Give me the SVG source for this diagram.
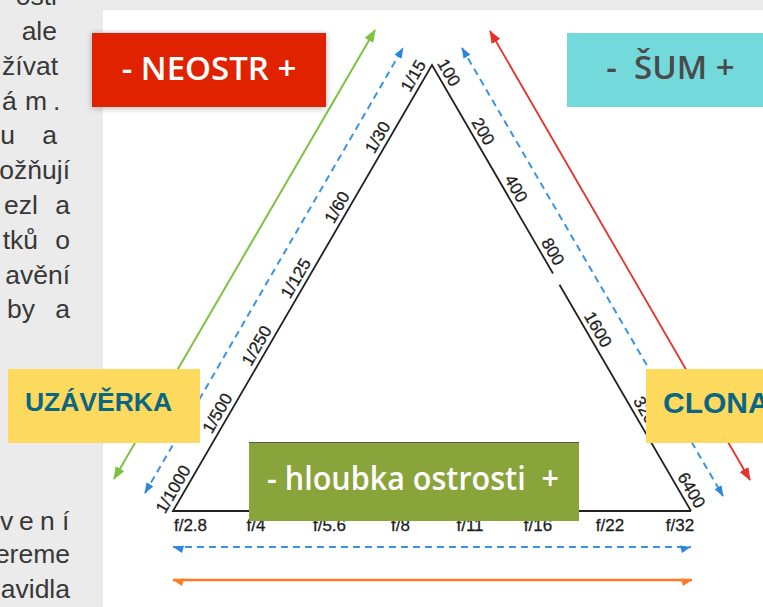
<svg xmlns="http://www.w3.org/2000/svg" width="763" height="607" viewBox="0 0 763 607">
<defs>
<style>
.body{font-family:"Liberation Sans",Arial,sans-serif;font-size:26.5px;fill:#383838}
.lbl{font-family:"Liberation Sans",Arial,sans-serif;font-size:17px;fill:#1e1e1e;stroke:#1e1e1e;stroke-width:0.3;text-anchor:middle}
.flbl{font-family:"Liberation Sans",Arial,sans-serif;font-size:17px;fill:#1e1e1e;stroke:#1e1e1e;stroke-width:0.3;text-anchor:middle}
.big{font-family:"Open Sans","Noto Sans",sans-serif;font-weight:600;font-size:33px;text-anchor:middle;white-space:pre}
.yl{font-family:"Liberation Sans",Arial,sans-serif;font-weight:bold;fill:#0b6684}
.tri{fill:none;stroke:#222;stroke-width:1.8;stroke-linejoin:miter}
.dash{fill:none;stroke:#3a93e6;stroke-width:2;stroke-dasharray:7 5}
</style>
<filter id="sh" x="-10%" y="-30%" width="120%" height="160%">
<feDropShadow dx="0" dy="1" stdDeviation="3" flood-color="#000" flood-opacity="0.3"/>
</filter>
<marker id="gA" markerUnits="userSpaceOnUse" markerWidth="16" markerHeight="12" refX="12" refY="5" orient="auto-start-reverse"><path d="M0,0 L13,5 L0,10 Z" fill="#7dc242"/></marker>
<marker id="rA" markerUnits="userSpaceOnUse" markerWidth="16" markerHeight="12" refX="12" refY="5" orient="auto-start-reverse"><path d="M0,0 L13,5 L0,10 Z" fill="#e5322d"/></marker>
<marker id="bA" markerUnits="userSpaceOnUse" markerWidth="14" markerHeight="10" refX="10" refY="4" orient="auto-start-reverse"><path d="M0,0 L11,4 L0,8 Z" fill="#2b86e0"/></marker>
<marker id="oE" markerUnits="userSpaceOnUse" markerWidth="14" markerHeight="10" refX="11" refY="2" orient="auto"><path d="M0,0.5 L11,2 L2,8 Z" fill="#ff7a22"/></marker>
<marker id="oS" markerUnits="userSpaceOnUse" markerWidth="14" markerHeight="10" refX="0" refY="2" orient="auto"><path d="M11,0.5 L0,2 L9,8 Z" fill="#ff7a22"/></marker>
<marker id="bE" markerUnits="userSpaceOnUse" markerWidth="14" markerHeight="10" refX="11" refY="2" orient="auto"><path d="M0,0.5 L11,2 L2,8 Z" fill="#2b86e0"/></marker>
<marker id="bS" markerUnits="userSpaceOnUse" markerWidth="14" markerHeight="10" refX="0" refY="2" orient="auto"><path d="M11,0.5 L0,2 L9,8 Z" fill="#2b86e0"/></marker>
</defs>

<rect x="0" y="0" width="763" height="607" fill="#ebebeb"/>
<rect x="103" y="10" width="660" height="597" fill="#ffffff"/>

<g id="bodytext" class="body">
<text x="57" y="5" text-anchor="end">osti</text>
<text x="57" y="40" text-anchor="end">ale</text>
<text x="58" y="75" text-anchor="end">žívat</text>
<text y="110"><tspan x="2">á</tspan><tspan x="25">m</tspan><tspan x="53">.</tspan></text>
<text y="144" text-anchor="end"><tspan x="15">u</tspan><tspan x="57">a</tspan></text>
<text x="70" y="179" text-anchor="end">ožňují</text>
<text y="214" text-anchor="end"><tspan x="38">ezl</tspan><tspan x="70">a</tspan></text>
<text y="249" text-anchor="end"><tspan x="38">tků</tspan><tspan x="70">o</tspan></text>
<text x="70" y="284" text-anchor="end">avění</text>
<text y="318" text-anchor="end"><tspan x="35">by</tspan><tspan x="70">a</tspan></text>
<text y="530"><tspan x="0">v</tspan><tspan x="19">e</tspan><tspan x="40">n</tspan><tspan x="62">í</tspan></text>
<text x="70" y="563" text-anchor="end">ereme</text>
<text x="70" y="598" text-anchor="end">avidla</text>
</g>

<g id="connectors">
<line x1="114" y1="479" x2="375" y2="30" stroke="#7dc242" stroke-width="2" marker-start="url(#gA)" marker-end="url(#gA)"/>
<line x1="145" y1="493" x2="403" y2="48" class="dash" marker-start="url(#bA)" marker-end="url(#bA)"/>
<line x1="490" y1="31" x2="750" y2="480" stroke="#e5322d" stroke-width="1.8" marker-start="url(#rA)" marker-end="url(#rA)"/>
<line x1="462" y1="48" x2="723" y2="496" class="dash" marker-start="url(#bA)" marker-end="url(#bA)"/>
<line x1="173" y1="547" x2="691" y2="547" class="dash" marker-start="url(#bS)" marker-end="url(#bE)"/>
<line x1="173" y1="580" x2="692" y2="580" stroke="#ff7a22" stroke-width="2.5" marker-start="url(#oS)" marker-end="url(#oE)"/>
</g>

<g id="triangle">
<path class="tri" d="M691,511 L173,511 L432,65 L553,273.5 M559.5,284.7 L691,511"/>
</g>

<g id="shutter-scale" class="lbl">
<text transform="translate(182.5,494.6) rotate(-59.86)" y="-5">1/1000</text>
<text transform="translate(226.7,418.5) rotate(-59.86)" y="-5">1/500</text>
<text transform="translate(265.9,351) rotate(-59.86)" y="-5">1/250</text>
<text transform="translate(305.1,283.6) rotate(-59.86)" y="-5">1/125</text>
<text transform="translate(346.3,212.6) rotate(-59.86)" y="-5">1/60</text>
<text transform="translate(386.9,142.6) rotate(-59.86)" y="-5">1/30</text>
<text transform="translate(422.6,81.2) rotate(-59.86)" y="-5">1/15</text>
</g>

<g id="iso-scale" class="lbl">
<text transform="translate(439.5,78) rotate(59.86)" y="-5">100</text>
<text transform="translate(473.7,136.8) rotate(59.86)" y="-5">200</text>
<text transform="translate(506.8,193.9) rotate(59.86)" y="-5">400</text>
<text transform="translate(543.5,257) rotate(59.86)" y="-5">800</text>
<text transform="translate(588.7,334.8) rotate(59.86)" y="-5">1600</text>
<text transform="translate(637.9,419.6) rotate(59.86)" y="-5">3200</text>
<text transform="translate(682.1,495.7) rotate(59.86)" y="-5">6400</text>
</g>

<g id="aperture-scale" class="flbl">
<text x="190.5" y="531">f/2.8</text>
<text x="256" y="531">f/4</text>
<text x="329.5" y="531">f/5.6</text>
<text x="400.5" y="531">f/8</text>
<text x="470" y="531">f/11</text>
<text x="538" y="531">f/16</text>
<text x="610" y="531">f/22</text>
<text x="680" y="531">f/32</text>
</g>

<g id="neostr">
<rect x="92" y="33" width="234" height="74" fill="#e02401" filter="url(#sh)"/>
<text class="big" x="209" y="80" fill="#ffffff">- NEOSTR +</text>
</g>

<g id="sum">
<rect x="567" y="33" width="200" height="74" fill="#74d9da"/>
<text class="big" x="670.5" y="79" fill="#4a4a4a" font-size="34">-  ŠUM +</text>
</g>

<g id="uzaverka">
<rect x="8" y="369" width="192" height="74" fill="#fdd95d"/>
<text class="yl" x="98.5" y="411" font-size="26.5" text-anchor="middle">UZÁVĚRKA</text>
</g>

<g id="clona">
<rect x="646" y="369" width="120" height="74" fill="#fdd95d"/>
<text class="yl" x="663" y="413" font-size="30">CLONA</text>
</g>

<g id="hloubka">
<rect x="249" y="442" width="330" height="79" fill="#8aa43c"/>
<line x1="249" y1="442.5" x2="579" y2="442.5" stroke="#555" stroke-width="1.2"/>
<text class="big" x="413" y="490" fill="#ffffff" textLength="292" lengthAdjust="spacingAndGlyphs">- hloubka ostrosti  +</text>
</g>
</svg>
